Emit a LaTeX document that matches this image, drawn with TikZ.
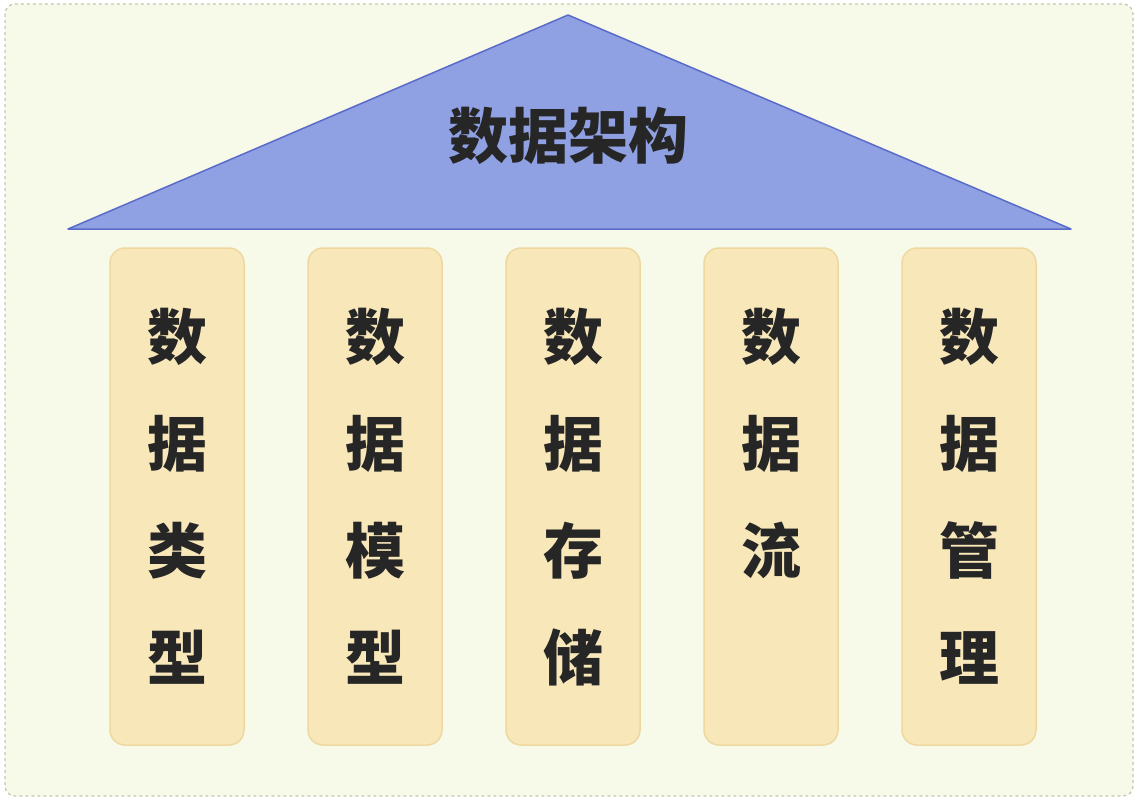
\documentclass[tikz,border=0pt]{standalone}
\usepackage{fontspec}
\newfontfamily\cjk{Noto Sans CJK SC}
\usetikzlibrary{positioning}

\definecolor{bgfill}{HTML}{F7F9E9}
\definecolor{bgline}{HTML}{C2C9B0}
\definecolor{rooffill}{HTML}{8FA1E3}
\definecolor{roofline}{HTML}{5B6BC9}
\definecolor{pillarfill}{HTML}{F8E7B9}
\definecolor{pillarline}{HTML}{EFD8A0}
\definecolor{inktext}{HTML}{262626}

\tikzset{
    pillar/.style={rectangle, draw=pillarline, fill=pillarfill, line width=1.5pt, rounded corners=15pt, minimum width=134pt, minimum height=497pt, inner sep=0pt},
    word/.style={inner sep=0pt, align=center, text=inktext, font=\cjk\bfseries\fontsize{60}{107}\selectfont},
}

\begin{document}
\begin{tikzpicture}[x=1pt, y=-1pt]
                \useasboundingbox (0,0) rectangle (1138,800);

                % Background
                \draw[draw=bgline, fill=bgfill, line width=1.3pt, dash pattern=on 3pt off 3pt, rounded corners=10pt] (5,4) rectangle (1133,796);

                % Roof
                \coordinate (top) at (568,15);
                \coordinate (eaveL) at (68,229);
                \coordinate (eaveR) at (1071,229);
                \draw[draw=roofline, fill=rooffill, line width=1.5pt, line join=round] (top) -- (eaveR) -- (eaveL) -- cycle;
                \node[word] at (568,136) (arch) {数据架构};

                % Pillars
                \node[pillar] at (177, 496.5) (type) {};
                \node[pillar] at (375, 496.5) (model) {};
                \node[pillar] at (573, 496.5) (store) {};
                \node[pillar] at (771, 496.5) (flow) {};
                \node[pillar] at (969, 496.5) (manage) {};

                \node[word, below=61pt of type.north] (typetext) {数\\据\\类\\型};
                \node[word, below=61pt of model.north] (modeltext) {数\\据\\模\\型};
                \node[word, below=61pt of store.north] (storetext) {数\\据\\存\\储};
                \node[word, below=61pt of flow.north] (flowtext) {数\\据\\流};
                \node[word, below=61pt of manage.north] (managetext) {数\\据\\管\\理};

            \end{tikzpicture}
\end{document}
